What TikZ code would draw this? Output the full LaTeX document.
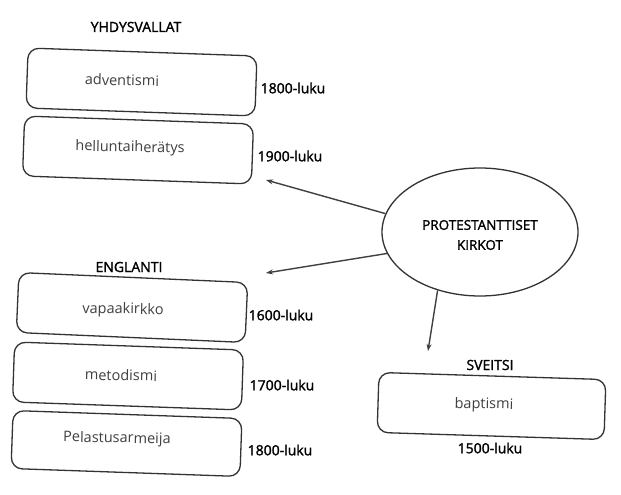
\documentclass[tikz,border=0pt]{standalone}
\usepackage{fontspec}
\setmainfont{Open Sans}
\newfontfamily\semib{Open Sans}[FakeBold=1.6]
\usetikzlibrary{arrows.meta,shapes.geometric}
\begin{document}
\begin{tikzpicture}[x=1pt,y=-1pt,
  box/.style={draw=black!80, line width=1.3pt, rounded corners=11pt, minimum width=229pt, minimum height=60pt, inner sep=0pt, rotate=-2},
  boxtxt/.style={font=\fontsize{14.5}{16}\selectfont, text=black!75, rotate=-1, inner sep=0pt},
  lab/.style={font=\semib\fontsize{14}{16}\selectfont, text=black, inner sep=0pt},
  arr/.style={draw=black!75, line width=1.4pt, -{Stealth[length=7pt,width=5pt,fill=black!45]}}
]
\fill[white] (0,0) rectangle (621,495);
\useasboundingbox (0,0) rectangle (621,495);

% YHDYSVALLAT
\node[lab] (us) at (136,27) {YHDYSVALLAT};
\node[box] (b1) at (141.5,82) {};
\node[boxtxt] (t1) at (122,80) {adventismi};
\node[lab] (d1) at (293,88) {1800-luku};
\node[box] (b2) at (138,150) {};
\node[boxtxt] (t2) at (130,148) {helluntaiherätys};
\node[lab] (d2) at (290,156) {1900-luku};

% ENGLANTI
\node[lab] (en) at (129,267) {ENGLANTI};
\node[box,rotate=-0.5] (b3) at (132,307.5) {};
\node[boxtxt] (t3) at (123,310) {vapaakirkko};
\node[lab] (d3) at (281,315) {1600-luku};
\node[box] (b4) at (128,376) {};
\node[boxtxt] (t4) at (121,375) {metodismi};
\node[lab] (d4) at (282,385) {1700-luku};
\node[box,minimum height=58pt] (b5) at (126.5,443.5) {};
\node[boxtxt] (t5) at (117,439) {Pelastusarmeija};
\node[lab] (d5) at (280,450) {1800-luku};

% center
\node[draw=black!80, line width=1.3pt, ellipse, minimum width=196pt, minimum height=128pt, inner sep=0pt] (c) at (480,232) {};
\node[lab, align=center, font=\semib\fontsize{13.5}{20}\selectfont] (ct) at (480,235) {PROTESTANTTISET\\KIRKOT};

% SVEITSI
\node[lab] (sv) at (490,365) {SVEITSI};
\node[box,rotate=0.2,minimum width=227pt] (b6) at (491.5,406) {};
\node[boxtxt] (t6) at (484,405) {baptismi};
\node[lab] (d6) at (490,448) {1500-luku};

% arrows
\coordinate (e1) at (266,180);
\coordinate (e2) at (266,273);
\coordinate (e3) at (428,351);
\draw[arr] (c.169) -- (e1);
\draw[arr] (c.193) -- (e2);
\draw[arr] (c.234) -- (e3);
\end{tikzpicture}
\end{document}
